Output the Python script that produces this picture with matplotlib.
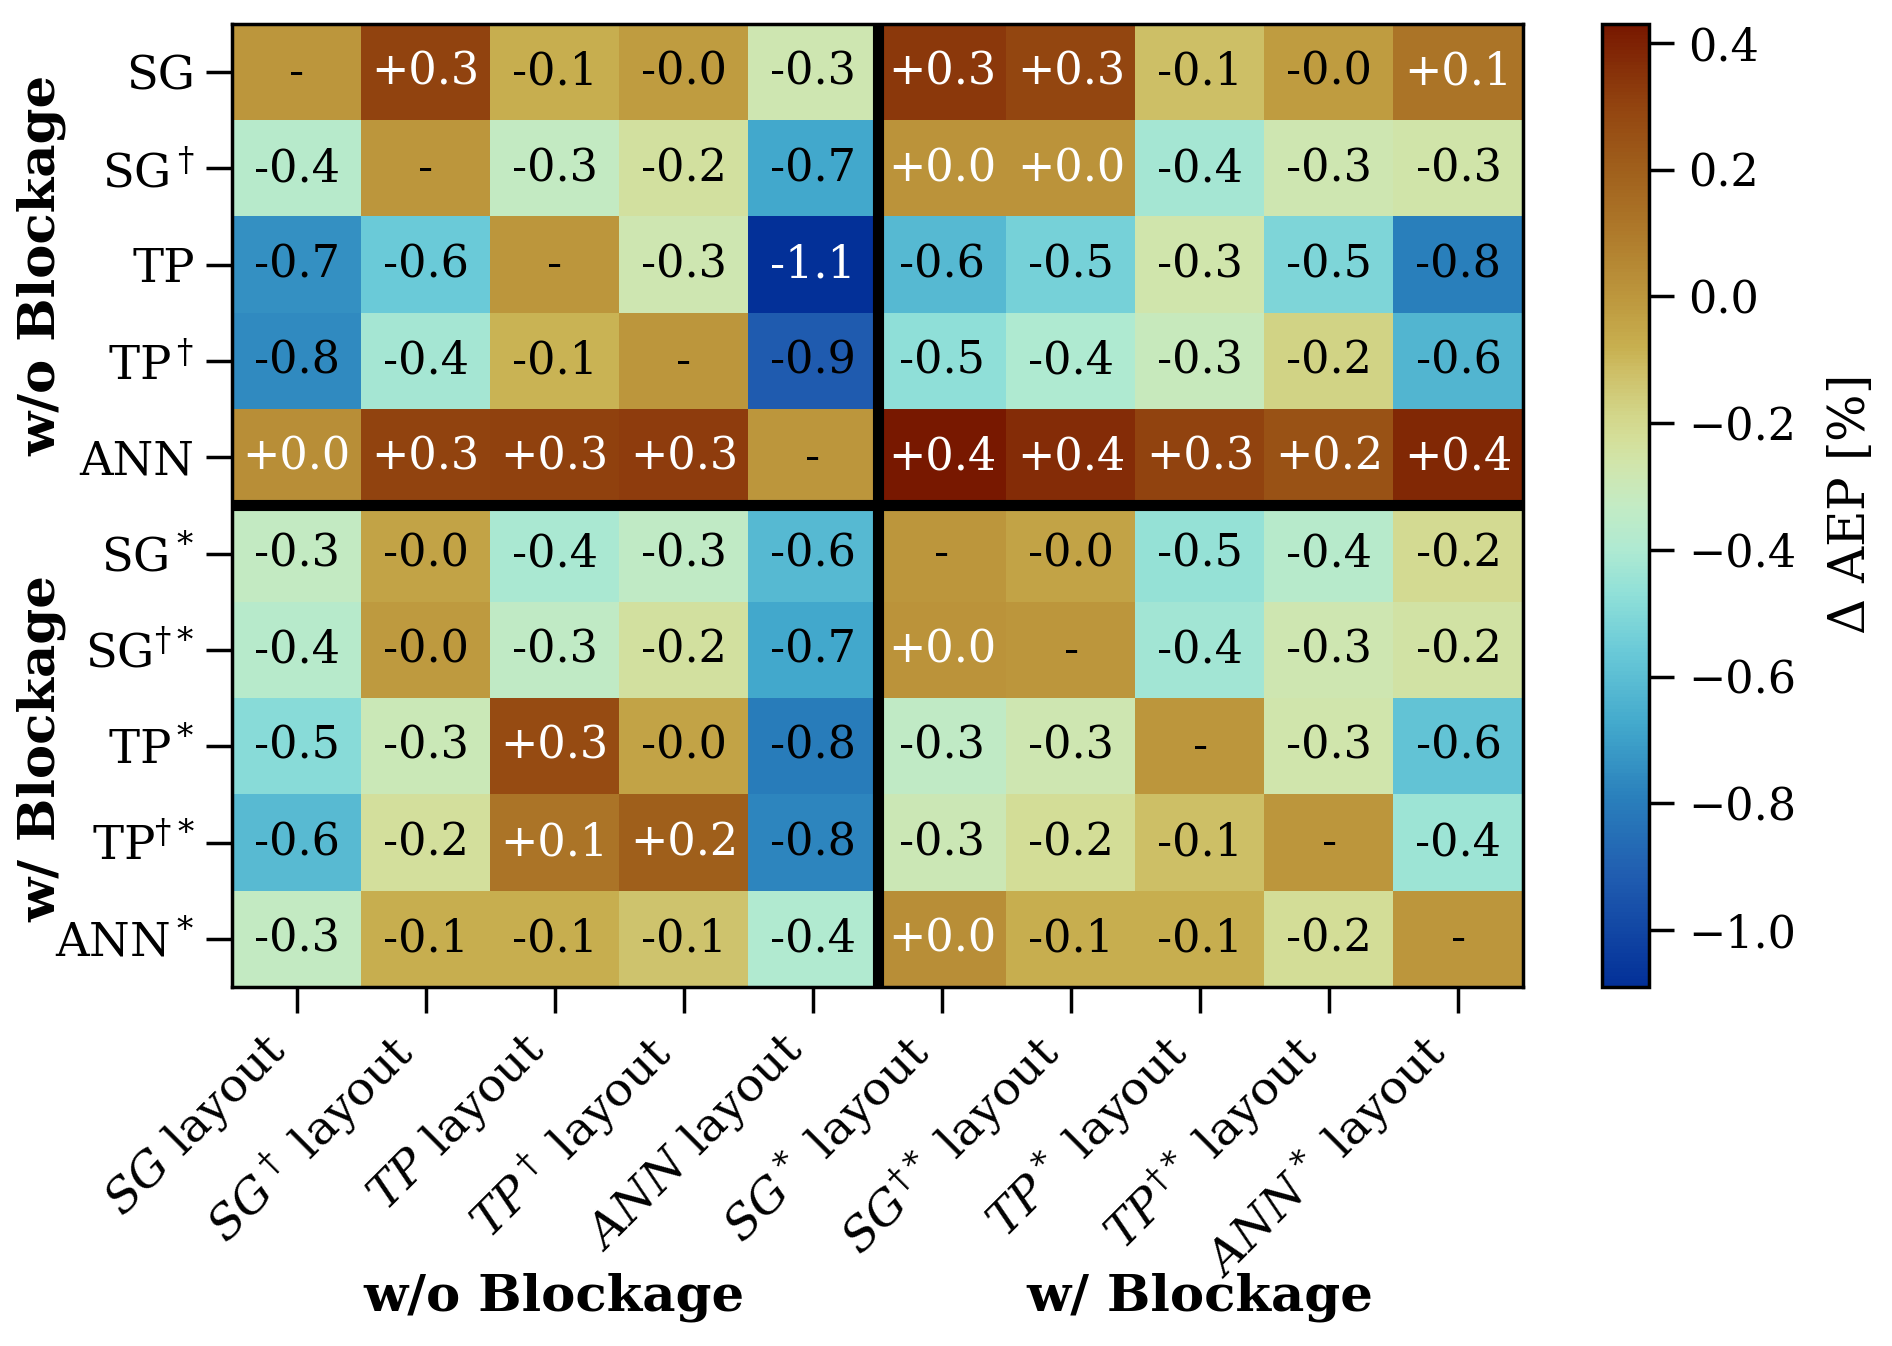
import numpy as np
import matplotlib
matplotlib.use("Agg")
import matplotlib.pyplot as plt
from matplotlib.colors import LinearSegmentedColormap

plt.rcParams['font.family'] = ['DejaVu Serif']
plt.rcParams['mathtext.fontset'] = 'dejavuserif'

row_labels = ["SG", r"SG$^\dagger$", "TP", r"TP$^\dagger$", "ANN",
              r"SG$^*$", r"SG$^{\dagger*}$", r"TP$^*$", r"TP$^{\dagger*}$", r"ANN$^*$"]
col_labels = [r"$SG$ layout", r"$SG^\dagger$ layout", r"$TP$ layout", r"$TP^\dagger$ layout",
              r"$ANN$ layout", r"$SG^*$ layout", r"$SG^{\dagger*}$ layout", r"$TP^*$ layout",
              r"$TP^{\dagger*}$ layout", r"$ANN^*$ layout"]
group_labels = ["w/o Blockage", "w/ Blockage"]
cbar_label = r"$\Delta$ AEP [%]"

# Delta AEP [%] per model (rows) evaluated on each layout (columns); diagonal = reference
row_sg = [0.00, 0.30, -0.08, -0.02, -0.28, 0.33, 0.29, -0.12, -0.02, 0.12]
row_sgd = [-0.37, 0.00, -0.33, -0.24, -0.68, 0.01, 0.01, -0.42, -0.28, -0.26]
row_tp = [-0.74, -0.56, 0.00, -0.28, -1.09, -0.62, -0.53, -0.27, -0.51, -0.79]
row_tpd = [-0.76, -0.42, -0.09, 0.00, -0.92, -0.47, -0.40, -0.31, -0.18, -0.63]
row_ann = [0.03, 0.30, 0.31, 0.32, 0.00, 0.43, 0.37, 0.30, 0.25, 0.38]
row_sgs = [-0.33, -0.04, -0.41, -0.34, -0.62, 0.00, -0.04, -0.46, -0.37, -0.21]
row_sgds = [-0.37, -0.01, -0.34, -0.24, -0.68, 0.01, 0.00, -0.43, -0.28, -0.25]
row_tps = [-0.49, -0.30, 0.27, -0.04, -0.80, -0.34, -0.28, 0.00, -0.27, -0.58]
row_tpds = [-0.61, -0.23, 0.12, 0.20, -0.77, -0.29, -0.22, -0.12, 0.00, -0.44]
row_anns = [-0.33, -0.08, -0.08, -0.13, -0.39, 0.03, -0.08, -0.08, -0.22, 0.00]

data = np.array([row_sg, row_sgd, row_tp, row_tpd, row_ann,
                 row_sgs, row_sgds, row_tps, row_tpds, row_anns])
n = data.shape[0]

# roma-like reversed colormap (blue -> pale green -> gold -> dark brown)
cmap = LinearSegmentedColormap.from_list("roma_r_like", [
    (0.000, (3/255, 48/255, 152/255)),
    (0.112, (32/255, 92/255, 176/255)),
    (0.197, (42/255, 128/255, 188/255)),
    (0.270, (66/255, 168/255, 204/255)),
    (0.349, (106/255, 202/255, 216/255)),
    (0.408, (144/255, 224/255, 216/255)),
    (0.454, (175/255, 234/255, 210/255)),
    (0.500, (195/255, 235/255, 196/255)),
    (0.539, (208/255, 230/255, 174/255)),
    (0.572, (212/255, 222/255, 152/255)),
    (0.599, (210/255, 212/255, 134/255)),
    (0.638, (206/255, 192/255, 104/255)),
    (0.664, (200/255, 176/255, 80/255)),
    (0.717, (189/255, 151/255, 61/255)),
    (0.796, (172/255, 117/255, 40/255)),
    (0.849, (160/255, 96/255, 28/255)),
    (0.914, (147/255, 69/255, 16/255)),
    (1.000, (120/255, 24/255, 0/255)),
])

W, H = 1892, 1346
fig = plt.figure(figsize=(W/100, H/100), dpi=100)
ax_l, ax_r, ax_t, ax_b = 232, 1523, 24, 987
ax = fig.add_axes([ax_l/W, 1-ax_b/H, (ax_r-ax_l)/W, (ax_b-ax_t)/H])
cax = fig.add_axes([1602/W, 1-ax_b/H, 47/W, (ax_b-ax_t)/H])

im = ax.imshow(data, cmap=cmap, aspect='auto', interpolation='nearest')

for i in range(n):
    for j in range(n):
        v = data[i, j]
        if i == j:
            txt, col = "-", "black"
        else:
            txt = f"{v:+.1f}"
            col = "white" if (v >= 0 or v < -1.0) else "black"
        ax.text(j, i, txt, ha='center', va='center', color=col, fontsize=32)

ax.axvline(4.5, color='black', lw=8)
ax.axhline(4.5, color='black', lw=8)

ax.set_xticks(np.arange(n))
ax.set_yticks(np.arange(n))
ax.set_xticklabels(col_labels, rotation=45, ha='right', fontsize=34)
ax.set_yticklabels(row_labels, fontsize=33.5)
ax.tick_params(axis='both', length=19, width=2.5, pad=8)
for s in ax.spines.values():
    s.set_linewidth(2.5)

cb = fig.colorbar(im, cax=cax)
cb.set_ticks([0.4, 0.2, 0.0, -0.2, -0.4, -0.6, -0.8, -1.0])
cb.ax.tick_params(labelsize=32, length=18, width=2.5, pad=10)
cb.outline.set_linewidth(2.5)
cb.set_label(cbar_label, fontsize=36, labelpad=22)

fig.text(42/W, 1-265/H, group_labels[0], rotation=90, ha='center', va='center',
         fontsize=37, fontweight='bold')
fig.text(42/W, 1-748/H, group_labels[1], rotation=90, ha='center', va='center',
         fontsize=37, fontweight='bold')
fig.text(554/W, 1-1297/H, group_labels[0], ha='center', va='center',
         fontsize=37, fontweight='bold')
fig.text(1200/W, 1-1297/H, group_labels[1], ha='center', va='center',
         fontsize=37, fontweight='bold')

fig.savefig("out.png", dpi=100)
